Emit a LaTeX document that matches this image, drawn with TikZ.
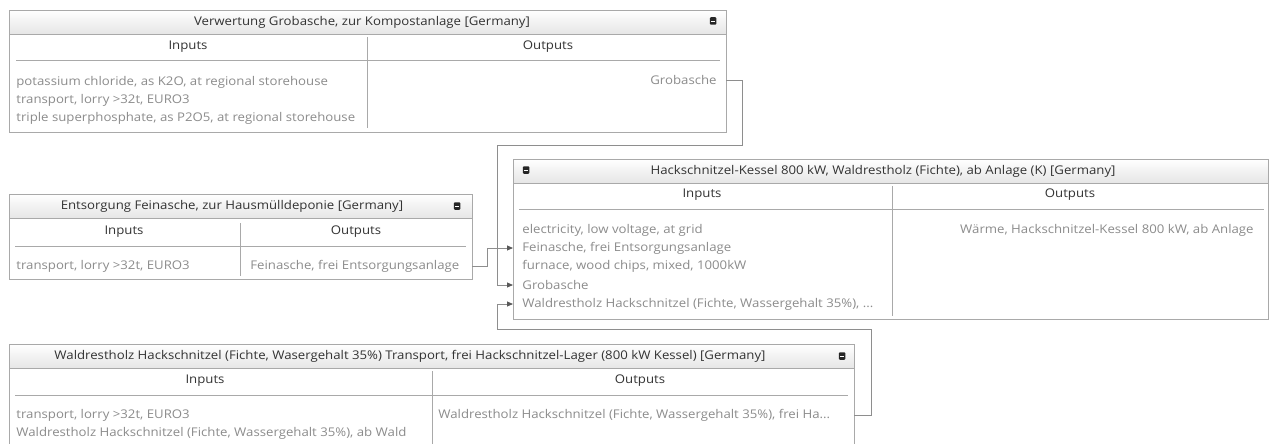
\documentclass[tikz,border=0pt]{standalone}
\usepackage{fontspec}
\setmainfont[FakeStretch=1.1]{Open Sans}
\usetikzlibrary{arrows.meta}

\definecolor{framegray}{HTML}{A9A9A9}
\definecolor{wiregray}{HTML}{8E8E8E}
\definecolor{itemgray}{HTML}{8C8C8C}
\definecolor{headgray}{HTML}{333333}

\begin{document}
\begin{tikzpicture}
	[x=1pt,y=-1pt,line width=0.8pt,
	frame/.style = {
		draw=framegray, fill=white,
		anchor=north west, inner sep=0pt, outer sep=0pt
	},
	titlebar/.style = {
		draw=framegray,
		top color=white, bottom color=black!10,
		anchor=north west, inner sep=0pt, outer sep=0pt,
		minimum height=24pt
	},
	titletext/.style = {
		text=headgray, inner sep=0pt,
		font=\fontsize{12}{14}\selectfont
	},
	headtext/.style = {
		text=headgray, inner sep=0pt,
		font=\fontsize{12}{14}\selectfont
	},
	item/.style = {
		text=itemgray, inner sep=0pt,
		font=\fontsize{12}{14}\selectfont
	},
	rule/.style = {
		draw=framegray
	},
	icon/.style = {
		fill=black!85, rounded corners=1pt, inner sep=0pt,
		minimum width=6.5pt, minimum height=7.5pt,
		path picture = {
			\draw[white, line width=0.9pt]
			([xshift=1pt]path picture bounding box.west) --
			([xshift=-1pt]path picture bounding box.east);
		}
	},
	wire/.style = {
		draw=wiregray,
		-{Triangle[length=6pt,width=5pt,color=black!65]}
	}]

	\useasboundingbox (0,0) rectangle (1269,444);
	\clip (0,0) rectangle (1269,444);

	%Box 1
	\node[frame, minimum width=717pt, minimum height=122pt] at (9,10) (b1) {};
	\node[titlebar, minimum width=717pt] at (9,10) (b1t) {};
	\node[titletext] at (362,22) (b1title) {Verwertung Grobasche, zur Kompostanlage [Germany]};
	\node[icon] at (713,21) (b1x) {};
	\node[headtext] at (188,47) (b1in) {Inputs};
	\node[headtext] at (548,47) (b1out) {Outputs};
	\draw[rule] (16,60) -- (720,60);
	\draw[rule] (367,37) -- (367,128);
	\node[item, anchor=west] at (16,82) (b1i1) {potassium chloride, as K2O, at regional storehouse};
	\node[item, anchor=west] at (16,100) (b1i2) {transport, lorry >32t, EURO3};
	\node[item, anchor=west] at (16,118) (b1i3) {triple superphosphate, as P2O5, at regional storehouse};
	\node[item, anchor=east] at (717,80) (b1o1) {Grobasche};

	%Box 2
	\node[frame, minimum width=463pt, minimum height=85pt] at (9,194) (b2) {};
	\node[titlebar, minimum width=463pt] at (9,194) (b2t) {};
	\node[titletext] at (232,206) (b2title) {Entsorgung Feinasche, zur Hausmülldeponie [Germany]};
	\node[icon] at (457,206) (b2x) {};
	\node[headtext] at (124,232) (b2in) {Inputs};
	\node[headtext] at (356,232) (b2out) {Outputs};
	\draw[rule] (15,246) -- (466,246);
	\draw[rule] (240,223) -- (240,276);
	\node[item, anchor=west] at (16,266) (b2i1) {transport, lorry >32t, EURO3};
	\node[item, anchor=west] at (250,266) (b2o1) {Feinasche, frei Entsorgungsanlage};

	%Box 3
	\node[frame, minimum width=755pt, minimum height=160pt] at (513,159) (b3) {};
	\node[titlebar, minimum width=755pt] at (513,159) (b3t) {};
	\node[titletext] at (883,171) (b3title) {Hackschnitzel-Kessel 800 kW, Waldrestholz (Fichte), ab Anlage (K) [Germany]};
	\node[icon] at (526,170) (b3x) {};
	\node[headtext] at (702,195) (b3in) {Inputs};
	\node[headtext] at (1070,195) (b3out) {Outputs};
	\draw[rule] (519,209) -- (1264,209);
	\draw[rule] (892,186) -- (892,316);
	\node[item, anchor=west] at (522,230) (b3i1) {electricity, low voltage, at grid};
	\node[item, anchor=west] at (522,248) (b3i2) {Feinasche, frei Entsorgungsanlage};
	\node[item, anchor=west] at (522,266) (b3i3) {furnace, wood chips, mixed, 1000kW};
	\node[item, anchor=west] at (522,285) (b3i4) {Grobasche};
	\node[item, anchor=west] at (522,304) (b3i5) {Waldrestholz Hackschnitzel (Fichte, Wassergehalt 35\%), ...};
	\node[item, anchor=east] at (1254,230) (b3o1) {Wärme, Hackschnitzel-Kessel 800 kW, ab Anlage};

	%Box 4
	\node[frame, minimum width=845pt, minimum height=110pt] at (9,344) (b4) {};
	\node[titlebar, minimum width=845pt] at (9,344) (b4t) {};
	\node[titletext] at (410,356) (b4title) {Waldrestholz Hackschnitzel (Fichte, Wasergehalt 35\%) Transport, frei Hackschnitzel-Lager (800 kW Kessel) [Germany]};
	\node[icon] at (842,356) (b4x) {};
	\node[headtext] at (205,381) (b4in) {Inputs};
	\node[headtext] at (640,381) (b4out) {Outputs};
	\draw[rule] (15,395) -- (848,395);
	\draw[rule] (432,371) -- (432,450);
	\node[item, anchor=west] at (16,415) (b4i1) {transport, lorry >32t, EURO3};
	\node[item, anchor=west] at (16,433) (b4i2) {Waldrestholz Hackschnitzel (Fichte, Wassergehalt 35\%), ab Wald};
	\node[item, anchor=west] at (438,415) (b4o1) {Waldrestholz Hackschnitzel (Fichte, Wassergehalt 35\%), frei Ha...};

	%Bends
	\coordinate (j1) at (742,145);
	\coordinate (j2) at (497,145);
	\coordinate (j3) at (487,248);
	\coordinate (j4) at (871,329);
	\coordinate (j5) at (497,329);

	%Draw wires
	\draw[wire] (b1.east |- b1o1) -| (j1) -- (j2) |- (b3.west |- b3i4);
	\draw[wire] (b2.east |- b2o1) -| (j3) -- (b3.west |- b3i2);
	\draw[wire] (b4.east |- b4o1) -| (j4) -- (j5) |- (b3.west |- b3i5);

\end{tikzpicture}
\end{document}
